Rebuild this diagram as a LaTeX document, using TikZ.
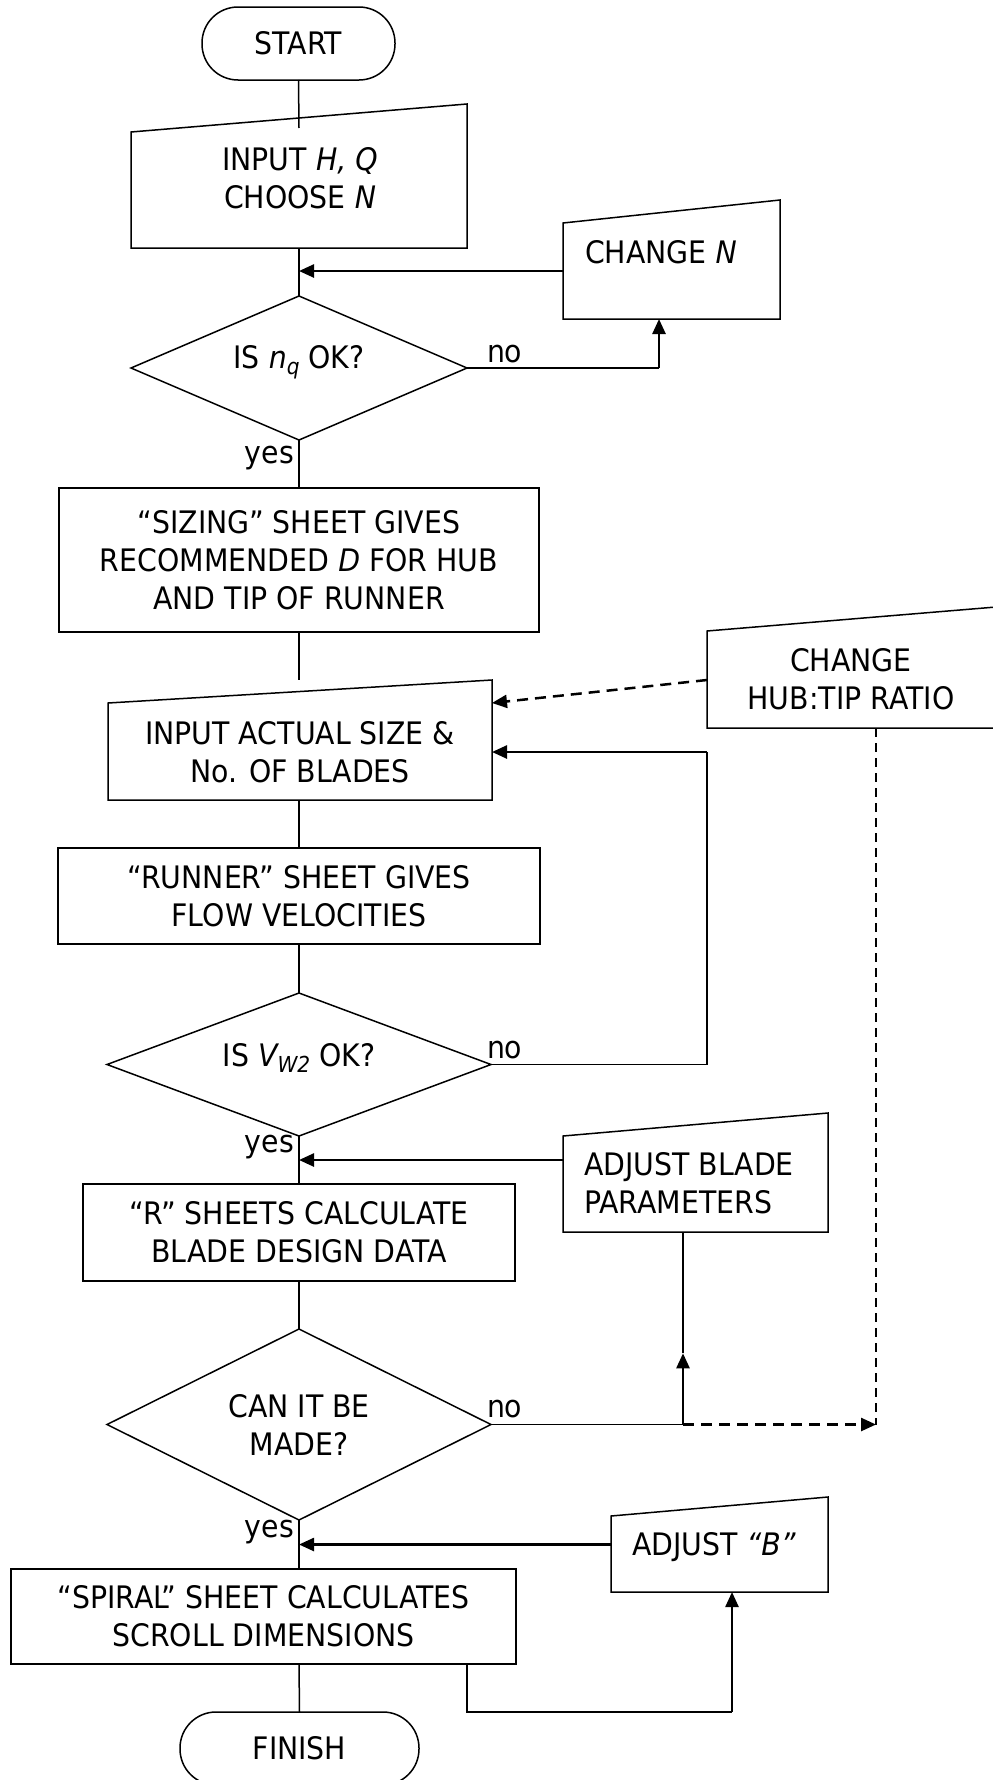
\documentclass[tikz,border=0pt]{standalone}
\usepackage{fontspec}
\setmainfont{DejaVu Sans}[FakeStretch=0.915]
\usetikzlibrary{shapes.geometric,arrows.meta,calc}
\begin{document}
\begin{tikzpicture}[x=1pt,y=-1pt,
  every node/.style={font=\fontsize{31}{38}\selectfont},
  ln/.style={line width=1.5pt},
  arr/.style={line width=2.5pt,-{Triangle[length=15pt,width=13pt]}},
  darr/.style={arr,dash pattern=on 11pt off 7pt},
  dln/.style={ln,dash pattern=on 9pt off 6pt},
  shp/.style={draw,line width=1.5pt,inner sep=0pt,outer sep=0pt},
  term/.style={shp,rectangle,rounded corners=36pt,minimum height=73pt},
  proc/.style={shp,rectangle,align=center},
  dec/.style={shp,diamond,aspect=2,align=center},
  region/.style={rectangle,inner sep=0pt,outer sep=0pt},
  txt/.style={inner sep=0pt,outer sep=0pt},
  subs/.style={}
]
\clip (0,0) rectangle (993,1780);

% ---------- shapes ----------
\node[term,minimum width=193pt] (start) at (298.5,43.5) {START};

\node[region,minimum width=336pt,minimum height=144pt] (inhq) at (299,176) {};
\draw[ln] (inhq.south west) -- (inhq.south east) -- (inhq.north east) -- ([yshift=-28pt]inhq.north west) -- cycle;
\node[txt,align=center] (inhqt) at (300,178) {INPUT {\itshape H, Q}\\CHOOSE {\itshape N}};

\node[region,minimum width=217pt,minimum height=119pt] (chn) at (671.5,259.5) {};
\draw[ln] (chn.south west) -- (chn.south east) -- (chn.north east) -- ([yshift=-23pt]chn.north west) -- cycle;
\node[txt,anchor=base west] (chnt) at (585,263) {CHANGE {\itshape N}};

\node[dec,minimum width=336pt,minimum height=144pt] (d1) at (299,368) {};
\node[txt,anchor=base] (d1t) at (299,368) {IS {\itshape n}\raisebox{-6pt}{\fontsize{22}{22}\selectfont\itshape q} OK?};

\node[proc,minimum width=480pt,minimum height=144pt] (sizing) at (299,560) {“SIZING” SHEET GIVES\\RECOMMENDED {\itshape D} FOR HUB\\AND TIP OF RUNNER};

\node[region,minimum width=384pt,minimum height=120pt] (inact) at (300,740) {};
\draw[ln] (inact.south west) -- (inact.south east) -- (inact.north east) -- ([yshift=-23pt]inact.north west) -- cycle;
\node[txt,align=center] (inactt) at (300,752) {INPUT ACTUAL SIZE \&\\No. OF BLADES};

\node[region,minimum width=289pt,minimum height=121pt] (hub) at (851.5,667.5) {};
\draw[ln] (hub.south west) -- (hub.south east) -- (hub.north east) -- ([yshift=-24pt]hub.north west) -- cycle;
\node[txt,align=center] (hubt) at (851,679) {CHANGE\\HUB:TIP RATIO};

\node[proc,minimum width=482pt,minimum height=96pt] (runner) at (299,896) {“RUNNER” SHEET GIVES\\FLOW VELOCITIES};

\node[dec,minimum width=384pt,minimum height=143pt] (d2) at (299,1064.5) {};
\node[txt,anchor=base] (d2t) at (299,1066) {IS {\itshape V}\raisebox{-6pt}{\fontsize{22}{22}\selectfont\itshape W2} OK?};

\node[region,minimum width=265pt,minimum height=119pt] (adjblade) at (695.5,1172.5) {};
\draw[ln] (adjblade.south west) -- (adjblade.south east) -- (adjblade.north east) -- ([yshift=-23pt]adjblade.north west) -- cycle;
\node[txt,anchor=west,align=left] (adjbladet) at (584,1183) {ADJUST BLADE\\PARAMETERS};

\node[proc,minimum width=432pt,minimum height=97pt] (rsheets) at (299,1232.5) {“R” SHEETS CALCULATE\\BLADE DESIGN DATA};

\node[dec,minimum width=384pt,minimum height=191pt] (d3) at (299,1424.5) {CAN IT BE\\MADE?};

\node[region,minimum width=217pt,minimum height=95pt] (adjb) at (719.5,1544.5) {};
\draw[ln] (adjb.south west) -- (adjb.south east) -- (adjb.north east) -- ([yshift=-19pt]adjb.north west) -- cycle;
\node[txt,anchor=base west] (adjbt) at (632,1555) {ADJUST {\itshape “B”}};

\node[proc,minimum width=505pt,minimum height=95pt] (spiral) at (263.5,1616.5) {“SPIRAL” SHEET CALCULATES\\SCROLL DIMENSIONS};

\node[term,minimum width=239pt] (finish) at (299.5,1748.5) {FINISH};

% ---------- labels ----------
\node[txt,anchor=base west] (no1) at (487,362) {no};
\node[txt,anchor=base west] (no2) at (487,1058) {no};
\node[txt,anchor=base west] (no3) at (487,1417) {no};
\node[txt,anchor=base east] (yes1) at (294,463) {yes};
\node[txt,anchor=base east] (yes2) at (294,1152) {yes};
\node[txt,anchor=base east] (yes3) at (294,1537) {yes};

% ---------- helper coordinates ----------
\coordinate (inhqtop) at ([yshift=-24pt]inhq.north);
\coordinate (chnL) at ([yshift=-11.5pt]chn.west);
\coordinate (chnB) at ([xshift=-12.5pt]chn.south);
\coordinate (inacttop) at (inact.north -| d1.north);
\coordinate (hubL) at ([yshift=-12.5pt]hub.west);
\coordinate (inactR1) at ([yshift=37pt]inact.east);
\coordinate (inactR2) at ([yshift=-12pt]inact.east);
\coordinate (hubB) at ([xshift=24.5pt]hub.south);
\coordinate (adjbladeL) at ([yshift=12.5pt]adjblade.west);
\coordinate (adjbladeB) at ([xshift=-12.5pt]adjblade.south);
\coordinate (j3) at (d3.east -| adjbladeB);
\coordinate (amid) at ($(j3)!0.37!(adjbladeB)$);
\coordinate (adjbB) at ([xshift=12.5pt]adjb.south);
\coordinate (spB2) at ([xshift=203.5pt]spiral.south);

% ---------- connectors ----------
\draw[ln] (start.south) -- (inhqtop);
\draw[ln] (inhq.south) -- (d1.north);
\draw[arr] (chnL) -- (chnL -| d1.north);
\draw[ln] (d1.east) -- (d1.east -| chnB);
\draw[arr] (d1.east -| chnB) -- (chnB);
\draw[ln] (d1.south) -- (sizing.north);
\draw[ln] (sizing.south) -- (inacttop);
\draw[darr] (hubL) -- (inactR1);
\draw[ln] (inact.south -| d1.south) -- (runner.north);
\draw[ln] (runner.south) -- (d2.north);
\draw[ln] (d2.east) -- (d2.east -| hub.west) -- (inactR2 -| hub.west);
\draw[arr] (inactR2 -| hub.west) -- (inactR2);
\draw[ln] (d2.south) -- (rsheets.north);
\draw[arr] (adjbladeL) -- (adjbladeL -| d2.south);
\draw[ln] (rsheets.south) -- (d3.north);
\draw[ln] (d3.east) -- (j3);
\draw[arr] (j3) -- (amid);
\draw[ln] (amid) -- (adjbladeB);
\draw[darr] (j3) -- (j3 -| hubB);
\draw[dln] (hubB) -- (j3 -| hubB);
\draw[ln] (d3.south) -- (d3.south |- spiral.north);
\draw[arr] (adjb.west) -- (adjb.west -| d3.south);
\draw[ln] (spiral.south -| d3.south) -- (finish.north);
\draw[ln] (spB2) -- (spB2 |- finish.north) -- (adjbB |- finish.north);
\draw[arr] (adjbB |- finish.north) -- (adjbB);
\end{tikzpicture}
\end{document}
